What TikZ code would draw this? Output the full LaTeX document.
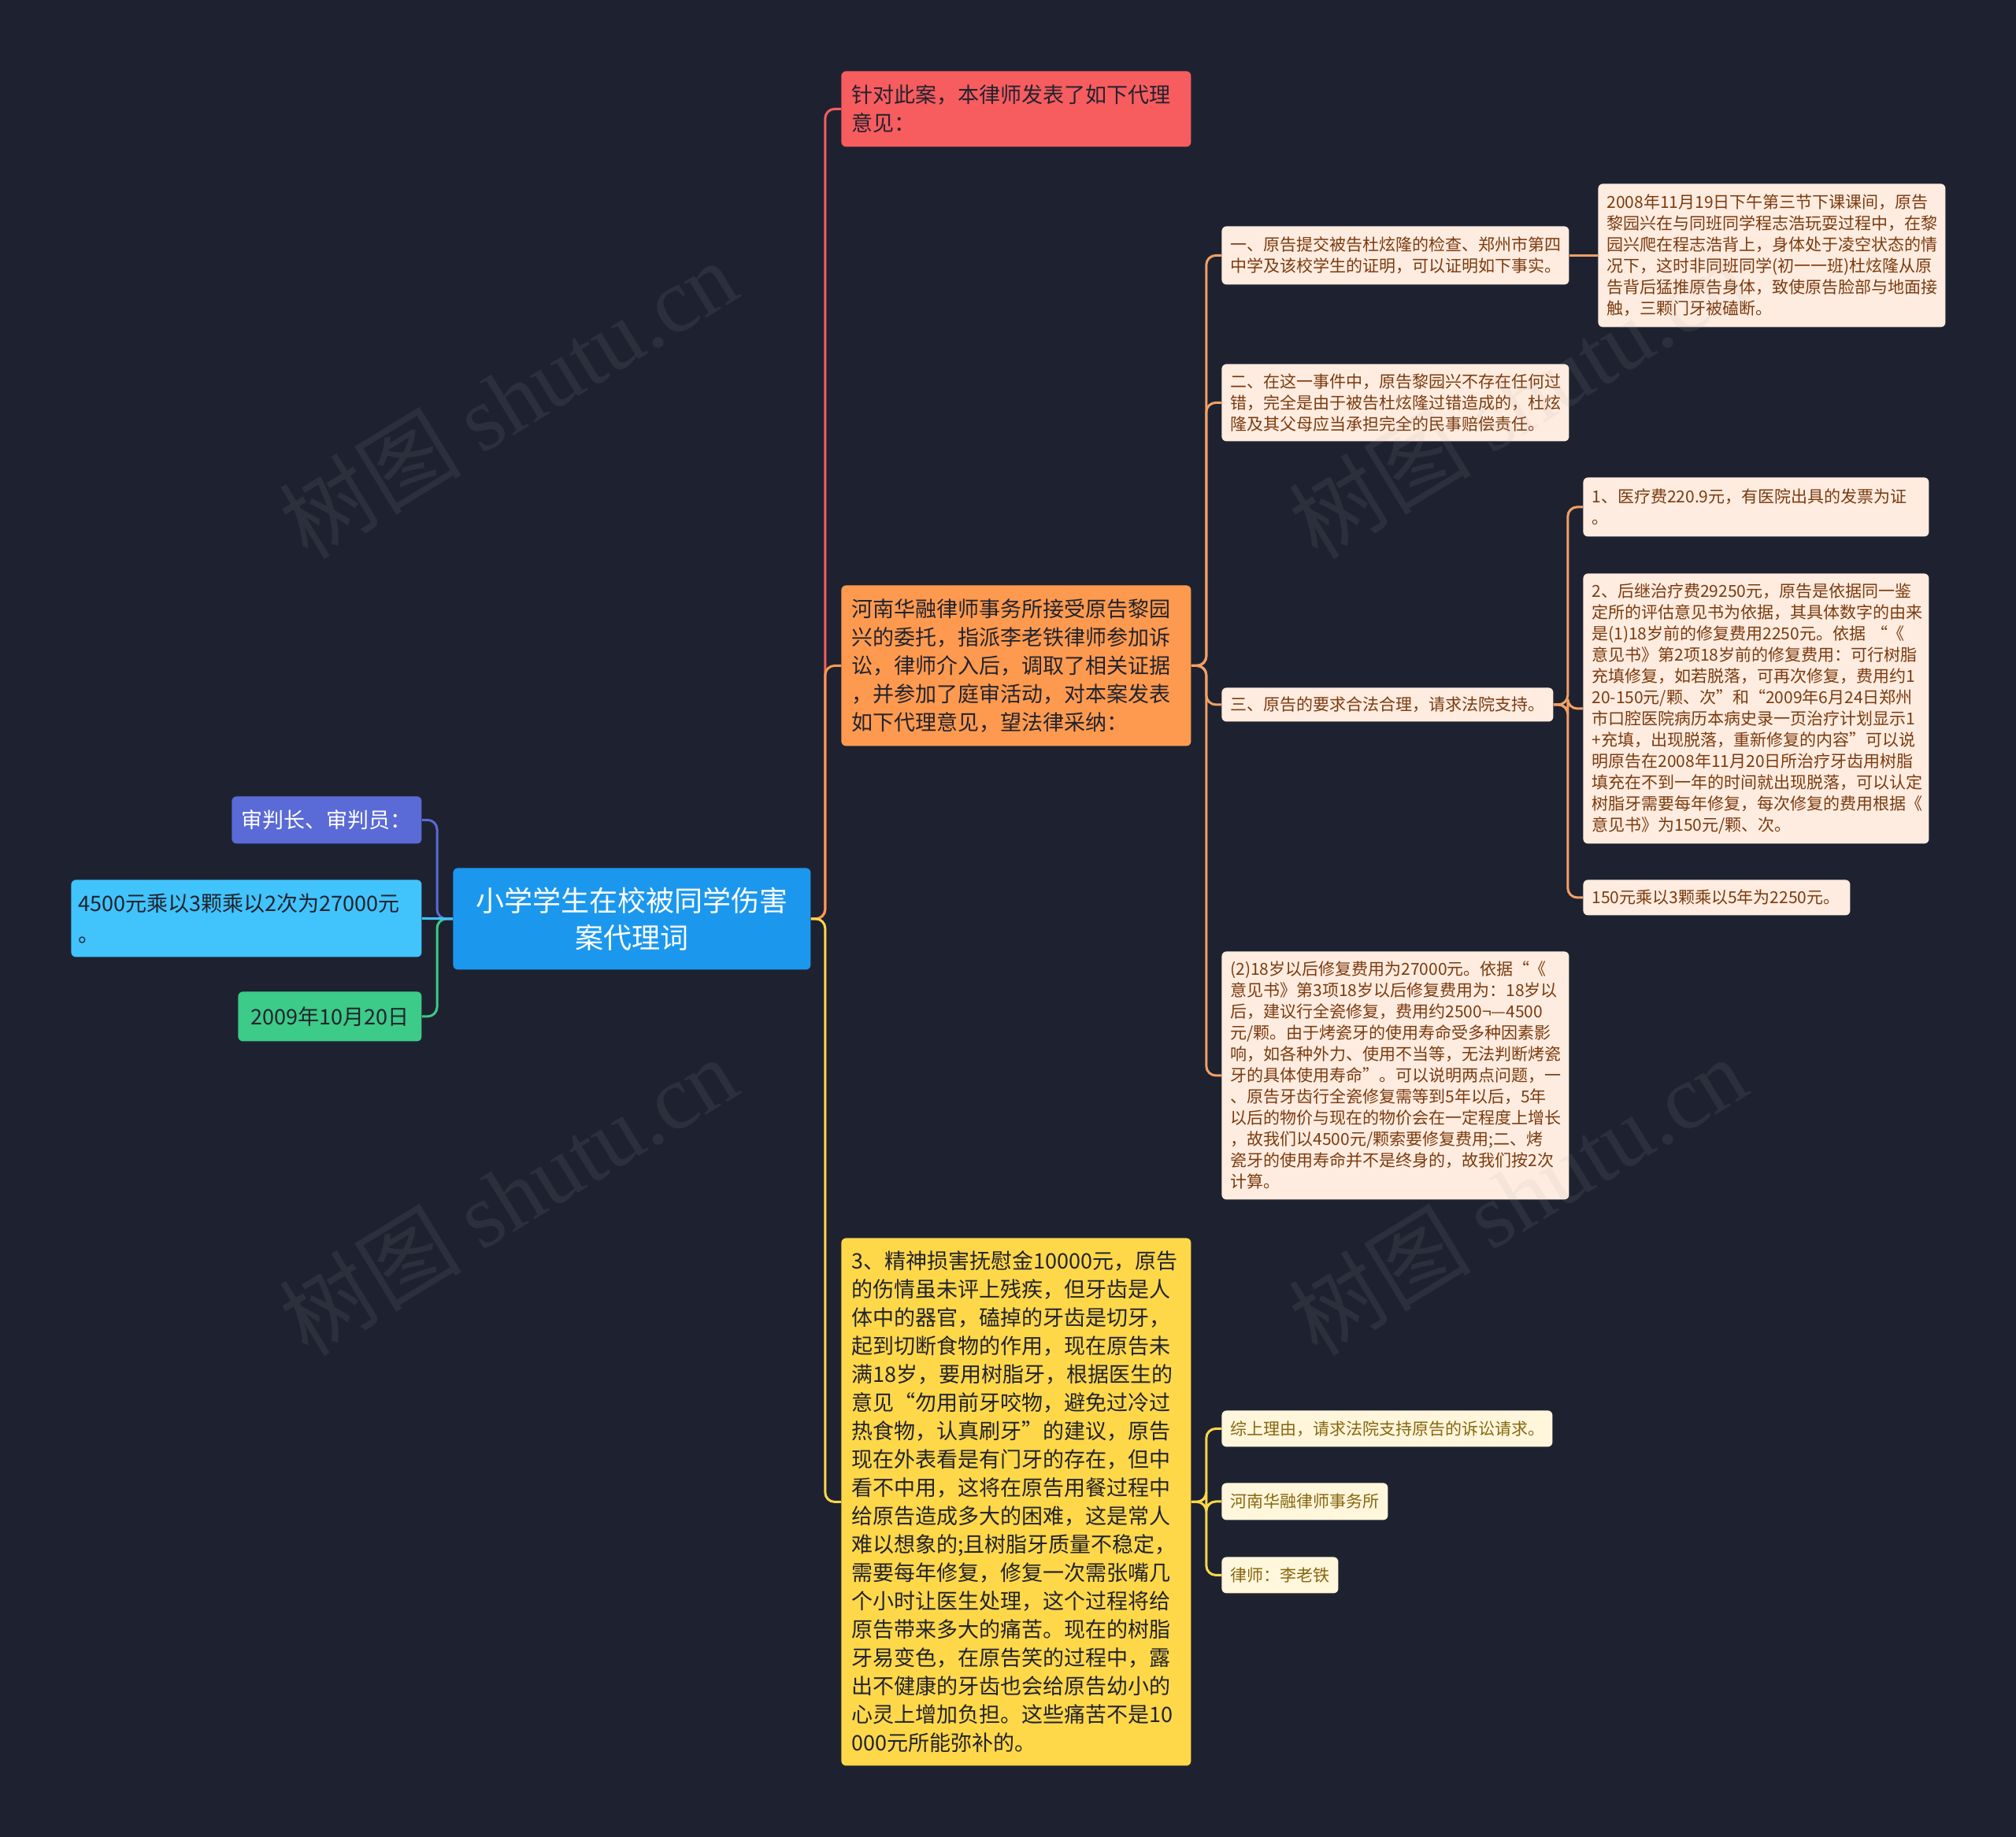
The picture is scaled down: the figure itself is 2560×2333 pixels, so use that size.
\documentclass[tikz,border=0pt]{standalone}
\usepackage{fontspec}
\setmainfont{Noto Sans CJK SC}
\newfontfamily\wmserif{Liberation Serif}
\definecolor{bg}{HTML}{1E2230}
\definecolor{rootc}{HTML}{1B98EE}
\definecolor{lonec}{HTML}{5A6AD6}
\definecolor{ltwoc}{HTML}{41C3FC}
\definecolor{lthreec}{HTML}{3CCB88}
\definecolor{redc}{HTML}{F75C5F}
\definecolor{orangec}{HTML}{FE9A4F}
\definecolor{yellowc}{HTML}{FFD84A}
\definecolor{peach}{HTML}{FFECE0}
\definecolor{peachtxt}{HTML}{7A3B0F}
\definecolor{cream}{HTML}{FFF6DC}
\definecolor{creamtxt}{HTML}{86670F}
\definecolor{darktxt}{HTML}{22232E}
\definecolor{olinec}{HTML}{F2A065}
\begin{document}
\begin{tikzpicture}[x=0.5pt,y=-0.5pt,
  box/.style={rounded corners=3pt, anchor=north west, align=left, inner ysep=2pt},
  bigtxt/.style={font=\fontsize{13.5}{18}\selectfont},
  smalltxt/.style={font=\fontsize{10.5}{13.5}\selectfont},
  mainbox/.style={box, bigtxt, inner xsep=6.5pt, text width=209pt, minimum width=222pt, text=darktxt},
  peachbox/.style={box, smalltxt, inner xsep=5.5pt, fill=peach, text=peachtxt},
  creambox/.style={box, smalltxt, inner xsep=5.5pt, fill=cream, text=creamtxt},
  conn/.style={line width=1.5pt, rounded corners=6pt},
  wm/.style={font=\fontsize{58}{60}\selectfont, text=gray!70, opacity=0.11, rotate=31.4}
]
\useasboundingbox (0,0) rectangle (2560,2333);
\fill[bg] (0,0) rectangle (2560,2333);

% root
\node[box, anchor=north west, fill=rootc, text=white, align=center,
  minimum width=227pt, minimum height=64.5pt,
  font=\fontsize{18}{23.5}\selectfont] (root) at (575,1102)
  {小学学生在校被同学伤害\\案代理词};

% left nodes
\node[box, bigtxt, fill=lonec, text=white, inner xsep=5pt, minimum width=120.5pt, minimum height=30pt, align=center] (lone) at (294,1011) {审判长、审判员：};
\node[box, font=\fontsize{13.5}{19.5}\selectfont, fill=ltwoc, text=darktxt, inner xsep=4.5pt, text width=213.5pt, minimum width=222.5pt, minimum height=49pt] (ltwo) at (90,1117) {4500元乘以3颗乘以2次为27000元\\。};
\node[box, bigtxt, fill=lthreec, text=darktxt, inner xsep=5pt, minimum width=116.5pt, minimum height=31.5pt, align=center] (lthree) at (302,1259) {2009年10月20日};

% main right nodes
\node[mainbox, fill=redc, minimum height=48pt] (red) at (1068,90) {针对此案，本律师发表了如下代理\\意见：};
\node[mainbox, fill=orangec, minimum height=102pt] (orange) at (1068,743) {河南华融律师事务所接受原告黎园\\兴的委托，指派李老铁律师参加诉\\讼，律师介入后，调取了相关证据\\，并参加了庭审活动，对本案发表\\如下代理意见，望法律采纳：};
\node[mainbox, fill=yellowc, minimum height=335pt] (yellow) at (1068,1572) {3、精神损害抚慰金10000元，原告\\的伤情虽未评上残疾，但牙齿是人\\体中的器官，磕掉的牙齿是切牙，\\起到切断食物的作用，现在原告未\\满18岁，要用树脂牙，根据医生的\\意见“勿用前牙咬物，避免过冷过\\热食物，认真刷牙”的建议，原告\\现在外表看是有门牙的存在，但中\\看不中用，这将在原告用餐过程中\\给原告造成多大的困难，这是常人\\难以想象的;且树脂牙质量不稳定，\\需要每年修复，修复一次需张嘴几\\个小时让医生处理，这个过程将给\\原告带来多大的痛苦。现在的树脂\\牙易变色，在原告笑的过程中，露\\出不健康的牙齿也会给原告幼小的\\心灵上增加负担。这些痛苦不是10\\000元所能弥补的。};

% orange children
\node[peachbox, text width=209.5pt, minimum width=220.5pt, minimum height=37pt] (pone) at (1551,287) {一、原告提交被告杜炫隆的检查、郑州市第四\\中学及该校学生的证明，可以证明如下事实。};
\node[peachbox, text width=209.5pt, minimum width=220.5pt, minimum height=91pt] (ponea) at (2029,233) {2008年11月19日下午第三节下课课间，原告\\黎园兴在与同班同学程志浩玩耍过程中，在黎\\园兴爬在程志浩背上，身体处于凌空状态的情\\况下，这时非同班同学(初一一班)杜炫隆从原\\告背后猛推原告身体，致使原告脸部与地面接\\触，三颗门牙被磕断。};
\node[peachbox, text width=209.5pt, minimum width=220.5pt, minimum height=49pt] (ptwo) at (1551,462) {二、在这一事件中，原告黎园兴不存在任何过\\错，完全是由于被告杜炫隆过错造成的，杜炫\\隆及其父母应当承担完全的民事赔偿责任。};
\node[peachbox, text width=199.5pt, minimum width=210.5pt, minimum height=21.5pt] (pthree) at (1551,873) {三、原告的要求合法合理，请求法院支持。};
\node[peachbox, text width=208.5pt, minimum width=219.5pt, minimum height=37.5pt] (pthreea) at (2010,606) {1、医疗费220.9元，有医院出具的发票为证\\。};
\node[peachbox, text width=208.5pt, minimum width=219.5pt, minimum height=171.5pt] (pthreeb) at (2010,728) {2、后继治疗费29250元，原告是依据同一鉴\\定所的评估意见书为依据，其具体数字的由来\\是(1)18岁前的修复费用2250元。依据~“《\\意见书》第2项18岁前的修复费用：可行树脂\\充填修复，如若脱落，可再次修复，费用约1\\20-150元/颗、次”和“2009年6月24日郑州\\市口腔医院病历本病史录一页治疗计划显示1\\+充填，出现脱落，重新修复的内容”可以说\\明原告在2008年11月20日所治疗牙齿用树脂\\填充在不到一年的时间就出现脱落，可以认定\\树脂牙需要每年修复，每次修复的费用根据《\\意见书》为150元/颗、次。};
\node[peachbox, text width=158.5pt, minimum width=169.5pt, minimum height=22.5pt] (pthreec) at (2010,1117) {150元乘以3颗乘以5年为2250元。};
\node[peachbox, text width=209.5pt, minimum width=220.5pt, minimum height=157.5pt] (pfour) at (1551,1208) {(2)18岁以后修复费用为27000元。依据“《\\意见书》第3项18岁以后修复费用为：18岁以\\后，建议行全瓷修复，费用约2500¬—4500\\元/颗。由于烤瓷牙的使用寿命受多种因素影\\响，如各种外力、使用不当等，无法判断烤瓷\\牙的具体使用寿命”。可以说明两点问题，一\\、原告牙齿行全瓷修复需等到5年以后，5年\\以后的物价与现在的物价会在一定程度上增长\\，故我们以4500元/颗索要修复费用;二、烤\\瓷牙的使用寿命并不是终身的，故我们按2次\\计算。};

% yellow children
\node[creambox, text width=199pt, minimum width=210pt, minimum height=23pt] (yone) at (1551,1791) {综上理由，请求法院支持原告的诉讼请求。};
\node[creambox, minimum width=104.5pt, minimum height=23.5pt] (ytwo) at (1551,1883) {河南华融律师事务所};
\node[creambox, minimum width=73.5pt, minimum height=23pt] (ythree) at (1551,1977) {律师：李老铁};

% connectors left
\draw[conn, lonec] (root.west) -- ++(-20,0) |- (lone.east);
\draw[conn, lthreec] (root.west) -- ++(-20,0) |- (lthree.east);
\draw[conn, ltwoc] (root.west) -- (ltwo.east);

% connectors right
\draw[conn, redc] (root.east) -- ++(18,0) |- (red.west);
\draw[conn, orangec] (root.east) -- ++(18,0) |- (orange.west);
\draw[conn, yellowc] (root.east) -- ++(18,0) |- (yellow.west);

\draw[conn, olinec] (orange.east) -- ++(19,0) |- (pone.west);
\draw[conn, olinec] (orange.east) -- ++(19,0) |- (ptwo.west);
\draw[conn, olinec] (orange.east) -- ++(19,0) |- (pthree.west);
\draw[conn, olinec] (orange.east) -- ++(19,0) |- (pfour.west);
\draw[conn, olinec] (pone.east) -- (pone.east -| ponea.west);
\draw[conn, olinec] (pthree.east) -- ++(18,0) |- (pthreea.west);
\draw[conn, olinec] (pthree.east) -- ++(18,0) |- (pthreeb.west);
\draw[conn, olinec] (pthree.east) -- ++(18,0) |- (pthreec.west);

\draw[conn, yellowc] (yellow.east) -- ++(19,0) |- (yone.west);
\draw[conn, yellowc] (yellow.east) -- ++(19,0) |- (ytwo.west);
\draw[conn, yellowc] (yellow.east) -- ++(19,0) |- (ythree.west);

% watermarks
\node[wm] (wmone) at (645,506) {树图 {\wmserif shutu.cn}};
\node[wm] (wmtwo) at (1927,506) {树图 {\wmserif shutu.cn}};
\node[wm] (wmthree) at (645,1518) {树图 {\wmserif shutu.cn}};
\node[wm] (wmfour) at (1927,1518) {树图 {\wmserif shutu.cn}};
\end{tikzpicture}
\end{document}
